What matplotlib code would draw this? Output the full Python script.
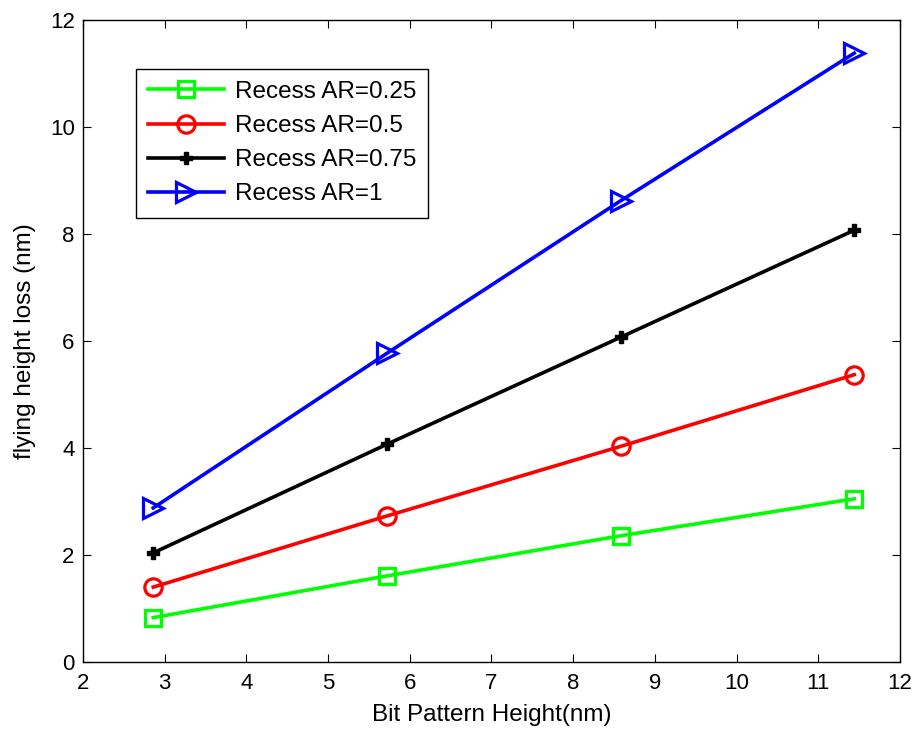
import matplotlib
matplotlib.use("Agg")
import matplotlib.pyplot as plt

plt.rcParams['font.family'] = ['Liberation Sans', 'DejaVu Sans']

x = [2.86, 5.72, 8.58, 11.44]
ar025 = [0.83, 1.61, 2.36, 3.05]
ar05 = [1.40, 2.73, 4.03, 5.37]
ar075 = [2.04, 4.07, 6.07, 8.07]
ar1 = [2.88, 5.77, 8.62, 11.38]
labels = ['Recess AR=0.25', 'Recess AR=0.5', 'Recess AR=0.75', 'Recess AR=1']

fig = plt.figure(figsize=(9.16, 7.32), dpi=100)
ax = fig.add_axes([0.0906, 0.0956, 0.8919, 0.8771])

lw = 2.6
ax.plot(x, ar025, color='#00ff00', lw=lw, marker='s', ms=12, mfc='none', mew=2.3, label=labels[0])
ax.plot(x, ar05, color='#ff0000', lw=lw, marker='o', ms=12.5, mfc='none', mew=2.3, label=labels[1])
ax.plot(x, ar075, color='black', lw=lw, marker='P', ms=9, mfc='black', mew=1, label=labels[2])
ax.plot(x, ar1, color='#0000ff', lw=lw, marker='>', ms=14, mfc='none', mew=2.3, label=labels[3])

ax.set_xlim(2, 12)
ax.set_ylim(0, 12)
ax.set_xticks(range(2, 13))
ax.set_yticks(range(0, 13, 2))
ax.tick_params(direction='in', top=True, right=True, length=6, width=0.8, labelsize=16)
ax.tick_params(axis='x', pad=8)
ax.tick_params(axis='y', pad=6)
for s in ax.spines.values():
    s.set_linewidth(1.0)
ax.set_xlabel('Bit Pattern Height(nm)', fontsize=17.5, labelpad=7)
ax.set_ylabel('flying height loss (nm)', fontsize=17.5, labelpad=10)

leg = ax.legend(loc='upper left', bbox_to_anchor=(0.065, 0.924), fontsize=17.5,
                frameon=True, fancybox=False, edgecolor='black', framealpha=1,
                borderpad=0.5, handlelength=3.1, handletextpad=0.45, labelspacing=0.5,
                borderaxespad=0)
leg.get_frame().set_linewidth(1.0)

fig.savefig('out.png', dpi=100)
